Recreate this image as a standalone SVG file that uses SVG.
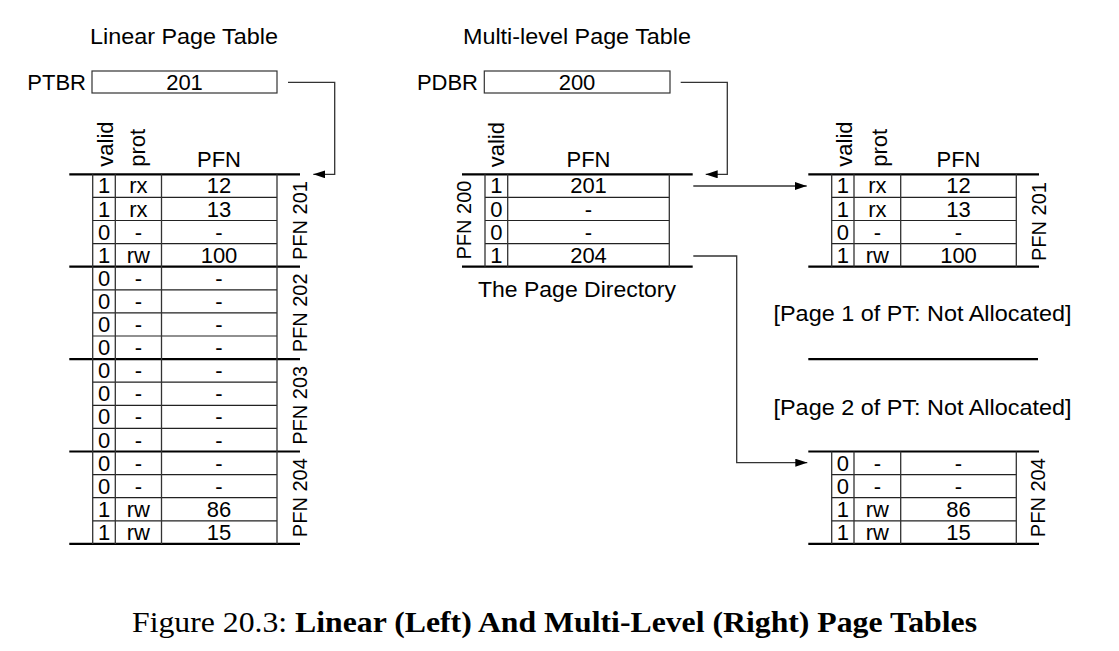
<svg xmlns="http://www.w3.org/2000/svg" width="1119" height="651" viewBox="0 0 1119 651">
<style>
text{font-family:"Liberation Sans",Arial,sans-serif;fill:#000}
.t{font-size:22px;text-anchor:middle}
.c{font-size:22px;text-anchor:middle}
.h{font-size:22px}
.r{font-size:20px;text-anchor:middle}
.thick{stroke:#000;stroke-width:2.2;fill:none}
.thin{stroke:#222;stroke-width:1.2;fill:none}
.v{stroke:#333;stroke-width:1.3;fill:none}
.box{fill:#fff;stroke:#333;stroke-width:1.2}
.conn{stroke:#333;stroke-width:1.3;fill:none;marker-end:url(#ah)}
.cap{font-family:"Liberation Serif","Times New Roman",serif;font-size:29px}
</style>
<defs>
<marker id="ah" viewBox="0 0 12 8" refX="12" refY="4" markerWidth="12" markerHeight="8" markerUnits="userSpaceOnUse" orient="auto">
<path d="M0,0 L12,4 L0,8 Z" fill="#000"/>
</marker>
</defs>
<rect width="1119" height="651" fill="#fff"/>

<g id="titles">
<text class="t" x="184" y="44" textLength="188" lengthAdjust="spacingAndGlyphs">Linear Page Table</text>
<text class="t" x="577" y="44" textLength="228" lengthAdjust="spacingAndGlyphs">Multi-level Page Table</text>
</g>

<g id="ptbr">
<text class="t" x="86" y="90" style="text-anchor:end">PTBR</text>
<rect class="box" x="92" y="71" width="185" height="22"/>
<text class="c" x="184.5" y="90">201</text>
</g>

<g id="pdbr">
<text class="t" x="478" y="90" style="text-anchor:end">PDBR</text>
<rect class="box" x="484.3" y="71" width="185.7" height="22"/>
<text class="c" x="577" y="90">200</text>
</g>

<g id="linear-table">
<text class="h" transform="translate(112.5,166.7) rotate(-90)">valid</text>
<text class="h" transform="translate(144.5,166.7) rotate(-90)">prot</text>
<text class="c" x="219" y="167">PFN</text>
<path class="thick" d="M69.3,174.3H300M69.3,266.7H300M69.3,359.1H300M69.3,451.5H300M69.3,543.9H300"/>
<path class="thin" d="M92.7,197.4H277M92.7,220.5H277M92.7,243.6H277M92.7,289.8H277M92.7,312.9H277M92.7,336H277M92.7,382.2H277M92.7,405.3H277M92.7,428.4H277M92.7,474.6H277M92.7,497.7H277M92.7,520.8H277"/>
<path class="v" d="M92.7,174.3V543.9M115.3,174.3V543.9M161.5,174.3V543.9M277,174.3V543.9"/>
<g class="c">
<text x="104" y="193.4">1</text><text x="138.4" y="193.4">rx</text><text x="219" y="193.4">12</text>
<text x="104" y="216.5">1</text><text x="138.4" y="216.5">rx</text><text x="219" y="216.5">13</text>
<text x="104" y="239.6">0</text><text x="138.4" y="239.6">-</text><text x="219" y="239.6">-</text>
<text x="104" y="262.7">1</text><text x="138.4" y="262.7">rw</text><text x="219" y="262.7">100</text>
<text x="104" y="285.8">0</text><text x="138.4" y="285.8">-</text><text x="219" y="285.8">-</text>
<text x="104" y="308.9">0</text><text x="138.4" y="308.9">-</text><text x="219" y="308.9">-</text>
<text x="104" y="332">0</text><text x="138.4" y="332">-</text><text x="219" y="332">-</text>
<text x="104" y="355.1">0</text><text x="138.4" y="355.1">-</text><text x="219" y="355.1">-</text>
<text x="104" y="378.2">0</text><text x="138.4" y="378.2">-</text><text x="219" y="378.2">-</text>
<text x="104" y="401.3">0</text><text x="138.4" y="401.3">-</text><text x="219" y="401.3">-</text>
<text x="104" y="424.4">0</text><text x="138.4" y="424.4">-</text><text x="219" y="424.4">-</text>
<text x="104" y="447.5">0</text><text x="138.4" y="447.5">-</text><text x="219" y="447.5">-</text>
<text x="104" y="470.6">0</text><text x="138.4" y="470.6">-</text><text x="219" y="470.6">-</text>
<text x="104" y="493.7">0</text><text x="138.4" y="493.7">-</text><text x="219" y="493.7">-</text>
<text x="104" y="516.8">1</text><text x="138.4" y="516.8">rw</text><text x="219" y="516.8">86</text>
<text x="104" y="539.9">1</text><text x="138.4" y="539.9">rw</text><text x="219" y="539.9">15</text>
</g>
<text class="r" transform="translate(307,220.5) rotate(-90)">PFN 201</text>
<text class="r" transform="translate(307,312.9) rotate(-90)">PFN 202</text>
<text class="r" transform="translate(307,405.3) rotate(-90)">PFN 203</text>
<text class="r" transform="translate(307,497.7) rotate(-90)">PFN 204</text>
</g>

<g id="page-directory">
<text class="h" transform="translate(503.5,167.3) rotate(-90)">valid</text>
<text class="c" x="588.5" y="167">PFN</text>
<path class="thick" d="M462,174.3H692.7M462,266.7H692.7"/>
<path class="thin" d="M485,197.4H669.3M485,220.5H669.3M485,243.6H669.3"/>
<path class="v" d="M485,174.3V266.7M507.7,174.3V266.7M669.3,174.3V266.7"/>
<g class="c">
<text x="496.3" y="193.4">1</text><text x="588.5" y="193.4">201</text>
<text x="496.3" y="216.5">0</text><text x="588.5" y="216.5">-</text>
<text x="496.3" y="239.6">0</text><text x="588.5" y="239.6">-</text>
<text x="496.3" y="262.7">1</text><text x="588.5" y="262.7">204</text>
</g>
<text class="r" transform="translate(470.5,220) rotate(-90)">PFN 200</text>
<text class="t" x="577" y="297.3" textLength="198" lengthAdjust="spacingAndGlyphs">The Page Directory</text>
</g>

<g id="pt-page0">
<text class="h" transform="translate(851.5,166.7) rotate(-90)">valid</text>
<text class="h" transform="translate(886.5,166.7) rotate(-90)">prot</text>
<text class="c" x="958.5" y="167">PFN</text>
<path class="thick" d="M808.3,174.3H1039M808.3,266.7H1039"/>
<path class="thin" d="M831.7,197.4H1016.3M831.7,220.5H1016.3M831.7,243.6H1016.3"/>
<path class="v" d="M831.7,174.3V266.7M854,174.3V266.7M900.7,174.3V266.7M1016.3,174.3V266.7"/>
<g class="c">
<text x="842.8" y="193.4">1</text><text x="877.3" y="193.4">rx</text><text x="958.5" y="193.4">12</text>
<text x="842.8" y="216.5">1</text><text x="877.3" y="216.5">rx</text><text x="958.5" y="216.5">13</text>
<text x="842.8" y="239.6">0</text><text x="877.3" y="239.6">-</text><text x="958.5" y="239.6">-</text>
<text x="842.8" y="262.7">1</text><text x="877.3" y="262.7">rw</text><text x="958.5" y="262.7">100</text>
</g>
<text class="r" transform="translate(1046,221.5) rotate(-90)">PFN 201</text>
</g>

<g id="pt-page1">
<text class="t" x="922.5" y="320.7" textLength="298" lengthAdjust="spacingAndGlyphs">[Page 1 of PT: Not Allocated]</text>
</g>
<g id="separator">
<path class="thick" d="M808.3,359.1H1038"/>
</g>
<g id="pt-page2">
<text class="t" x="922.5" y="414.5" textLength="298" lengthAdjust="spacingAndGlyphs">[Page 2 of PT: Not Allocated]</text>
</g>

<g id="pt-page3">
<path class="thick" d="M808.3,451.5H1039M808.3,543.9H1039"/>
<path class="thin" d="M831.7,474.6H1016.3M831.7,497.7H1016.3M831.7,520.8H1016.3"/>
<path class="v" d="M831.7,451.5V543.9M854,451.5V543.9M900.7,451.5V543.9M1016.3,451.5V543.9"/>
<g class="c">
<text x="842.8" y="470.6">0</text><text x="877.3" y="470.6">-</text><text x="958.5" y="470.6">-</text>
<text x="842.8" y="493.7">0</text><text x="877.3" y="493.7">-</text><text x="958.5" y="493.7">-</text>
<text x="842.8" y="516.8">1</text><text x="877.3" y="516.8">rw</text><text x="958.5" y="516.8">86</text>
<text x="842.8" y="539.9">1</text><text x="877.3" y="539.9">rw</text><text x="958.5" y="539.9">15</text>
</g>
<text class="r" transform="translate(1045,497.7) rotate(-90)">PFN 204</text>
</g>

<g id="connectors">
<path class="conn" d="M288,82.3H334.7V174.3H313.3"/>
<path class="conn" d="M680.7,82.3H727.3V174.3H705.7"/>
<path class="conn" d="M693.3,186H806.7"/>
<path class="conn" d="M693.3,256H736.7V462.7H807.3"/>
</g>

<g id="caption">
<text class="cap" x="132" y="631.5" textLength="845" lengthAdjust="spacingAndGlyphs">Figure 20.3: <tspan font-weight="bold">Linear (Left) And Multi-Level (Right) Page Tables</tspan></text>
</g>
</svg>
